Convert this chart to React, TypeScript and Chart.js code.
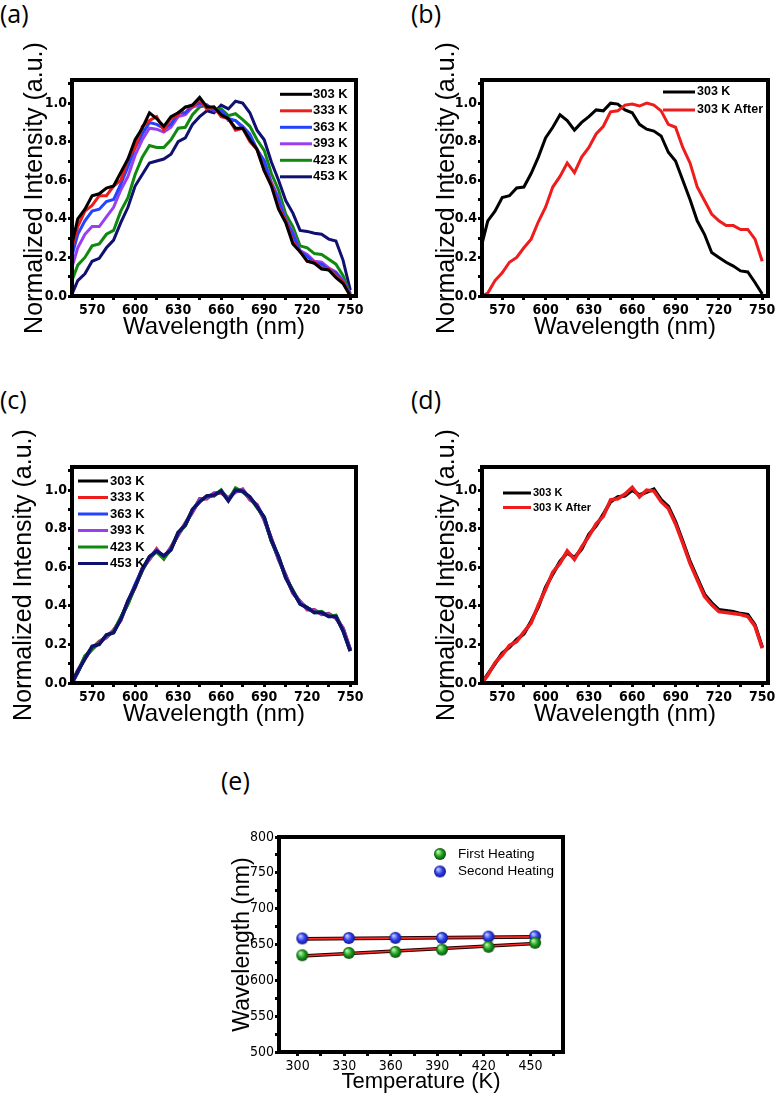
import React, { useEffect, useRef } from 'react';
import { Chart, registerables } from 'chart.js';

Chart.register(...registerables);

const TICK_FONT = '"DejaVu Sans Condensed", "Liberation Sans Narrow", "Liberation Sans", Arial, sans-serif';
const TITLE_FONT = '"Liberation Sans", Arial, sans-serif';

// ---------------- data ----------------
const wavelengths = [556, 560, 565, 570, 575, 580, 585, 590, 595, 600, 605, 610, 615, 620, 625, 630, 635, 640, 645, 650, 655, 660, 665, 670, 675, 680, 685, 690, 695, 700, 705, 710, 715, 720, 725, 730, 735, 740, 745, 750];

const wlTicks = [570, 585, 600, 615, 630, 645, 660, 675, 690, 705, 720, 735, 750];
const intensityTicks = [0, 0.1, 0.2, 0.3, 0.4, 0.5, 0.6, 0.7, 0.8, 0.9, 1.0, 1.1];

// (a) first heating
const a303 = [0.27, 0.40, 0.45, 0.52, 0.53, 0.56, 0.57, 0.64, 0.71, 0.81, 0.87, 0.95, 0.92, 0.88, 0.93, 0.95, 0.98, 0.99, 1.03, 0.98, 0.98, 0.94, 0.92, 0.87, 0.87, 0.81, 0.76, 0.65, 0.57, 0.45, 0.38, 0.27, 0.23, 0.18, 0.17, 0.14, 0.135, 0.095, 0.065, 0.0];
const a333 = [0.25, 0.36, 0.44, 0.47, 0.52, 0.52, 0.57, 0.60, 0.71, 0.77, 0.88, 0.91, 0.93, 0.86, 0.92, 0.94, 0.98, 0.98, 1.02, 0.97, 0.98, 0.93, 0.92, 0.86, 0.87, 0.80, 0.76, 0.65, 0.58, 0.46, 0.39, 0.28, 0.23, 0.18, 0.175, 0.145, 0.14, 0.105, 0.07, 0.005];
const a363 = [0.21, 0.32, 0.39, 0.44, 0.45, 0.49, 0.50, 0.58, 0.67, 0.77, 0.84, 0.90, 0.89, 0.87, 0.89, 0.95, 0.95, 0.99, 1.0, 0.99, 0.96, 0.96, 0.92, 0.91, 0.88, 0.84, 0.76, 0.70, 0.58, 0.50, 0.39, 0.32, 0.23, 0.205, 0.17, 0.165, 0.135, 0.12, 0.075, 0.015];
const a393 = [0.15, 0.25, 0.32, 0.36, 0.36, 0.41, 0.46, 0.55, 0.62, 0.73, 0.81, 0.87, 0.865, 0.85, 0.875, 0.93, 0.94, 0.98, 0.99, 0.99, 0.96, 0.96, 0.91, 0.91, 0.87, 0.82, 0.76, 0.70, 0.59, 0.51, 0.40, 0.33, 0.235, 0.215, 0.18, 0.175, 0.145, 0.125, 0.08, 0.01];
const a423 = [0.08, 0.16, 0.20, 0.26, 0.27, 0.32, 0.34, 0.44, 0.51, 0.63, 0.72, 0.78, 0.77, 0.77, 0.81, 0.87, 0.875, 0.94, 0.98, 0.99, 0.965, 0.97, 0.935, 0.945, 0.915, 0.88, 0.81, 0.755, 0.635, 0.55, 0.425, 0.36, 0.26, 0.25, 0.22, 0.215, 0.19, 0.165, 0.105, 0.01];
const a453 = [0.01, 0.08, 0.115, 0.18, 0.195, 0.25, 0.29, 0.38, 0.46, 0.57, 0.63, 0.69, 0.70, 0.71, 0.735, 0.80, 0.82, 0.89, 0.93, 0.96, 0.95, 0.99, 0.97, 1.01, 1.0, 0.95, 0.86, 0.81, 0.695, 0.60, 0.495, 0.43, 0.34, 0.335, 0.325, 0.32, 0.295, 0.285, 0.185, 0.03];

// (b) 303 K before / after first heating
const b303 = [0.27, 0.39, 0.44, 0.51, 0.52, 0.56, 0.565, 0.635, 0.72, 0.82, 0.875, 0.94, 0.91, 0.86, 0.90, 0.93, 0.965, 0.96, 1.0, 0.995, 0.965, 0.95, 0.89, 0.865, 0.855, 0.83, 0.745, 0.70, 0.60, 0.50, 0.39, 0.32, 0.225, 0.20, 0.175, 0.155, 0.13, 0.125, 0.07, 0.01];
const b303After = [0.0, 0.015, 0.08, 0.12, 0.175, 0.20, 0.25, 0.295, 0.385, 0.46, 0.565, 0.62, 0.69, 0.64, 0.72, 0.77, 0.84, 0.88, 0.955, 0.96, 0.99, 0.995, 0.985, 1.0, 0.99, 0.96, 0.89, 0.875, 0.77, 0.69, 0.565, 0.495, 0.425, 0.39, 0.365, 0.365, 0.345, 0.345, 0.295, 0.18];

// (c) second heating
const c303 = [0.0, 0.06, 0.13, 0.185, 0.205, 0.245, 0.265, 0.335, 0.415, 0.505, 0.585, 0.65, 0.685, 0.655, 0.695, 0.775, 0.82, 0.895, 0.945, 0.965, 0.975, 0.995, 0.95, 1.0, 0.995, 0.96, 0.915, 0.855, 0.74, 0.65, 0.55, 0.475, 0.415, 0.39, 0.37, 0.365, 0.35, 0.345, 0.275, 0.17];
const c333 = [0.005, 0.065, 0.125, 0.18, 0.215, 0.235, 0.275, 0.325, 0.425, 0.495, 0.595, 0.64, 0.695, 0.645, 0.705, 0.765, 0.83, 0.885, 0.955, 0.955, 0.985, 0.985, 0.96, 0.99, 1.005, 0.95, 0.925, 0.845, 0.75, 0.64, 0.56, 0.465, 0.425, 0.38, 0.38, 0.355, 0.36, 0.335, 0.285, 0.175];
const c363 = [0.0, 0.055, 0.135, 0.175, 0.21, 0.24, 0.27, 0.33, 0.42, 0.51, 0.59, 0.645, 0.69, 0.65, 0.70, 0.77, 0.825, 0.89, 0.95, 0.96, 0.98, 0.99, 0.955, 0.995, 1.0, 0.955, 0.92, 0.85, 0.745, 0.645, 0.555, 0.47, 0.42, 0.385, 0.375, 0.36, 0.355, 0.34, 0.28, 0.17];
const c393 = [0.0, 0.06, 0.13, 0.18, 0.21, 0.24, 0.27, 0.33, 0.42, 0.50, 0.59, 0.645, 0.69, 0.65, 0.70, 0.77, 0.825, 0.89, 0.95, 0.96, 0.98, 0.99, 0.955, 0.995, 1.0, 0.955, 0.92, 0.85, 0.745, 0.645, 0.555, 0.47, 0.42, 0.385, 0.375, 0.36, 0.355, 0.34, 0.28, 0.17];
const c423 = [0.01, 0.055, 0.14, 0.175, 0.21, 0.245, 0.265, 0.34, 0.41, 0.50, 0.585, 0.655, 0.68, 0.645, 0.695, 0.78, 0.815, 0.90, 0.94, 0.97, 0.97, 1.0, 0.945, 1.01, 0.99, 0.965, 0.91, 0.86, 0.735, 0.655, 0.545, 0.48, 0.41, 0.39, 0.365, 0.37, 0.345, 0.35, 0.27, 0.165];
const c453 = [0.0, 0.06, 0.125, 0.19, 0.20, 0.25, 0.26, 0.33, 0.425, 0.50, 0.59, 0.655, 0.685, 0.66, 0.69, 0.78, 0.82, 0.90, 0.94, 0.97, 0.975, 0.995, 0.945, 1.0, 0.995, 0.965, 0.915, 0.86, 0.74, 0.655, 0.545, 0.475, 0.41, 0.39, 0.365, 0.365, 0.345, 0.345, 0.27, 0.165];

// (d) 303 K before / after second heating
const d303 = [0.0, 0.045, 0.10, 0.155, 0.185, 0.225, 0.255, 0.32, 0.395, 0.495, 0.565, 0.63, 0.675, 0.65, 0.695, 0.77, 0.815, 0.875, 0.94, 0.965, 0.97, 1.0, 0.975, 0.99, 1.005, 0.95, 0.915, 0.835, 0.735, 0.63, 0.545, 0.46, 0.415, 0.38, 0.375, 0.37, 0.36, 0.355, 0.30, 0.185];
const d303After = [0.0, 0.04, 0.105, 0.145, 0.195, 0.215, 0.265, 0.31, 0.405, 0.485, 0.575, 0.62, 0.685, 0.64, 0.705, 0.76, 0.825, 0.865, 0.95, 0.955, 0.98, 1.015, 0.965, 1.0, 0.995, 0.94, 0.905, 0.825, 0.725, 0.62, 0.535, 0.45, 0.405, 0.37, 0.365, 0.36, 0.355, 0.345, 0.295, 0.18];

// (e) peak wavelength vs temperature
const temperatures = [303, 333, 363, 393, 423, 453];
const firstHeating = [635, 638.3, 639.7, 643, 646.8, 652.4];
const secondHeating = [658.5, 659, 659.3, 659.3, 661, 661.5];
const fitTemps = [303, 453];
const fitFirst = [634, 651.5];
const fitSecond = [657.8, 660.6];
const tempTicks = [300, 315, 330, 345, 360, 375, 390, 405, 420, 435, 450, 465];
const waveTicks = [500, 525, 550, 575, 600, 625, 650, 675, 700, 725, 750, 775, 800];

// colours
const C_BLACK = '#000000';
const C_RED = '#ee1c1c';
const C_BLUE = '#2343ff';
const C_PURPLE = '#9a3ff0';
const C_GREEN = '#0f8a0f';
const C_NAVY = '#101070';

// ---------------- plugins ----------------
type LegendItem = { text: string; color: string; image?: HTMLCanvasElement };
type LegendCfg = { x: number; y: number; gap: number; len: number; textGap: number; font: string; lineWidth: number; items: LegendItem[] };

function makeLegendPlugin(cfg: LegendCfg) {
  return {
    id: 'customLegend',
    afterDraw(chart: any) {
      const ctx = chart.ctx;
      ctx.save();
      ctx.font = cfg.font;
      ctx.textBaseline = 'middle';
      ctx.textAlign = 'left';
      cfg.items.forEach((it, i) => {
        const y = cfg.y + i * cfg.gap;
        if (it.image) {
          ctx.drawImage(it.image, cfg.x + cfg.len / 2 - it.image.width / 2, y - it.image.height / 2);
        } else {
          ctx.strokeStyle = it.color;
          ctx.lineWidth = cfg.lineWidth;
          ctx.beginPath();
          ctx.moveTo(cfg.x, y);
          ctx.lineTo(cfg.x + cfg.len, y);
          ctx.stroke();
        }
        ctx.fillStyle = '#000';
        ctx.fillText(it.text, cfg.x + cfg.len + cfg.textGap, y);
      });
      ctx.restore();
    },
  };
}

const framePlugin = {
  id: 'frameBox',
  afterDraw(chart: any) {
    const { ctx, chartArea: a } = chart;
    ctx.save();
    ctx.strokeStyle = '#000';
    ctx.lineWidth = 4;
    ctx.strokeRect(a.left, a.top, a.right - a.left, a.bottom - a.top);
    ctx.restore();
  },
};

function makeSphere(base: string, light: string, dark: string, r: number) {
  const c = document.createElement('canvas');
  c.width = 2 * r + 2;
  c.height = 2 * r + 2;
  const g = c.getContext('2d')!;
  const cx = r + 1;
  const grad = g.createRadialGradient(cx - r * 0.35, cx - r * 0.4, r * 0.1, cx, cx, r);
  grad.addColorStop(0, light);
  grad.addColorStop(0.55, base);
  grad.addColorStop(1, dark);
  g.fillStyle = grad;
  g.beginPath();
  g.arc(cx, cx, r, 0, Math.PI * 2);
  g.fill();
  return c;
}

// ---------------- spectrum panel ----------------
type Series = { label: string; data: number[]; color: string; order: number };
type Box = { l: number; t: number; r: number; b: number };

type SpectrumProps = {
  left: number; top: number; width: number; height: number;
  frame: Box; yTitleX: number; xTitleY: number;
  series: Series[]; legend: LegendCfg; lineWidth: number;
};

function SpectrumPanel(p: SpectrumProps) {
  const ref = useRef<HTMLCanvasElement | null>(null);
  useEffect(() => {
    const canvas = ref.current;
    if (!canvas) return;
    const yTitleSize = 25;
    const xTitleSize = 24;
    const padL = p.yTitleX - p.left - (yTitleSize * 1.2) / 2;
    const padT = p.frame.t - p.top;
    const padR = p.left + p.width - p.frame.r;
    const padB = p.top + p.height - p.xTitleY - (xTitleSize * 1.2) / 2;
    const yWidth = p.frame.l - p.left - padL;
    const xHeight = p.height - padB - (p.frame.b - p.top);
    const legendCfg: LegendCfg = { ...p.legend, x: p.legend.x - p.left, y: p.legend.y - p.top };

    const tickFont = { family: TICK_FONT, size: 14, weight: 'bold' as const };
    const chart = new Chart(canvas, {
      type: 'line',
      data: {
        datasets: p.series.map((s) => ({
          label: s.label,
          data: wavelengths.map((w, i) => ({ x: w, y: s.data[i] })),
          borderColor: s.color,
          backgroundColor: s.color,
          borderWidth: p.lineWidth,
          pointRadius: 0,
          tension: 0,
          order: s.order,
          fill: false,
        })),
      },
      options: {
        animation: false,
        responsive: false,
        devicePixelRatio: 1,
        layout: { padding: { left: padL, top: padT, right: padR, bottom: padB } },
        plugins: { legend: { display: false }, tooltip: { enabled: false } },
        scales: {
          x: {
            type: 'linear',
            min: 556,
            max: 754,
            afterBuildTicks: (s: any) => { s.ticks = wlTicks.map((v) => ({ value: v })); },
            afterFit: (s: any) => { s.height = xHeight; },
            ticks: {
              autoSkip: false, maxRotation: 0, padding: 2, color: '#000', font: tickFont,
              callback: (v: any) => (Number(v) % 30 === 0 ? String(v) : ''),
            },
            grid: { display: true, drawOnChartArea: false, drawTicks: true, tickLength: 4, tickWidth: 3, tickColor: '#000' },
            border: { display: false },
            title: { display: true, text: 'Wavelength (nm)', color: '#000', font: { family: TITLE_FONT, size: xTitleSize }, padding: { top: 0, bottom: 0 } },
          },
          y: {
            type: 'linear',
            min: 0,
            max: 1.12,
            afterBuildTicks: (s: any) => { s.ticks = intensityTicks.map((v) => ({ value: v })); },
            afterFit: (s: any) => { s.width = yWidth; },
            ticks: {
              autoSkip: false, padding: 1, color: '#000', font: tickFont,
              callback: (v: any) => (Math.round(Number(v) * 10) % 2 === 0 ? Number(v).toFixed(1) : ''),
            },
            grid: { display: true, drawOnChartArea: false, drawTicks: true, tickLength: 4, tickWidth: 3, tickColor: '#000' },
            border: { display: false },
            title: { display: true, text: 'Normalized Intensity (a.u.)', color: '#000', font: { family: TITLE_FONT, size: yTitleSize }, padding: { top: 0, bottom: 0 } },
          },
        },
      },
      plugins: [framePlugin, makeLegendPlugin(legendCfg)],
    } as any);
    return () => chart.destroy();
  }, []);
  return (
    <canvas ref={ref} width={p.width} height={p.height}
      style={{ position: 'absolute', left: p.left, top: p.top, width: p.width, height: p.height }} />
  );
}

// ---------------- temperature panel ----------------
function TempPanel() {
  const ref = useRef<HTMLCanvasElement | null>(null);
  const left = 200, top = 820, width = 420, height = 277;
  const frame = { l: 279, t: 837, r: 563, b: 1052 };
  useEffect(() => {
    const canvas = ref.current;
    if (!canvas) return;
    const xTitleSize = 22;
    const yTitleSize = 23;
    const padL = 243 - left - (yTitleSize * 1.2) / 2;
    const padT = frame.t - top;
    const padR = left + width - frame.r;
    const padB = top + height - 1082 - (xTitleSize * 1.2) / 2;
    const yWidth = frame.l - left - padL;
    const xHeight = height - padB - (frame.b - top);

    const greenBall = makeSphere('#1f9f1f', '#b8f5b0', '#0a4d0a', 6);
    const blueBall = makeSphere('#2f3ff0', '#c0c8ff', '#101a80', 6);
    const tickFont = { family: TICK_FONT, size: 14 };

    const legendCfg: LegendCfg = {
      x: 434 - left, y: 854 - top, gap: 17.5, len: 12, textGap: 12,
      font: `13.5px ${TITLE_FONT}`, lineWidth: 0,
      items: [
        { text: 'First Heating', color: '#1f9f1f', image: greenBall },
        { text: 'Second Heating', color: '#2f3ff0', image: blueBall },
      ],
    };

    const chart = new Chart(canvas, {
      type: 'scatter',
      data: {
        datasets: [
          { type: 'scatter', label: 'First Heating', data: temperatures.map((t, i) => ({ x: t, y: firstHeating[i] })), pointStyle: greenBall, pointRadius: 6, order: 0 },
          { type: 'scatter', label: 'Second Heating', data: temperatures.map((t, i) => ({ x: t, y: secondHeating[i] })), pointStyle: blueBall, pointRadius: 6, order: 0 },
          { type: 'line', label: 'Fit 1', data: fitTemps.map((t, i) => ({ x: t, y: fitFirst[i] })), borderColor: '#ff2a2a', borderWidth: 1.6, pointRadius: 0, order: 1 },
          { type: 'line', label: 'Fit 2', data: fitTemps.map((t, i) => ({ x: t, y: fitSecond[i] })), borderColor: '#ff2a2a', borderWidth: 1.6, pointRadius: 0, order: 1 },
          { type: 'line', label: 'Fit 1 edge', data: fitTemps.map((t, i) => ({ x: t, y: fitFirst[i] })), borderColor: '#200000', borderWidth: 3.6, pointRadius: 0, order: 2 },
          { type: 'line', label: 'Fit 2 edge', data: fitTemps.map((t, i) => ({ x: t, y: fitSecond[i] })), borderColor: '#200000', borderWidth: 3.6, pointRadius: 0, order: 2 },
        ],
      },
      options: {
        animation: false,
        responsive: false,
        devicePixelRatio: 1,
        layout: { padding: { left: padL, top: padT, right: padR, bottom: padB } },
        plugins: { legend: { display: false }, tooltip: { enabled: false } },
        scales: {
          x: {
            type: 'linear', min: 288, max: 471,
            afterBuildTicks: (s: any) => { s.ticks = tempTicks.map((v) => ({ value: v })); },
            afterFit: (s: any) => { s.height = xHeight; },
            ticks: { autoSkip: false, maxRotation: 0, padding: 2, color: '#000', font: tickFont, callback: (v: any) => (Number(v) % 30 === 0 ? String(v) : '') },
            grid: { display: true, drawOnChartArea: false, drawTicks: true, tickLength: 4, tickWidth: 3, tickColor: '#000' },
            border: { display: false },
            title: { display: true, text: 'Temperature (K)', color: '#000', font: { family: TITLE_FONT, size: xTitleSize }, padding: { top: 0, bottom: 0 } },
          },
          y: {
            type: 'linear', min: 500, max: 800,
            afterBuildTicks: (s: any) => { s.ticks = waveTicks.map((v) => ({ value: v })); },
            afterFit: (s: any) => { s.width = yWidth; },
            ticks: { autoSkip: false, padding: 1, color: '#000', font: tickFont, callback: (v: any) => (Number(v) % 50 === 0 ? String(v) : '') },
            grid: { display: true, drawOnChartArea: false, drawTicks: true, tickLength: 4, tickWidth: 3, tickColor: '#000' },
            border: { display: false },
            title: { display: true, text: 'Wavelength (nm)', color: '#000', font: { family: TITLE_FONT, size: yTitleSize }, padding: { top: 0, bottom: 0 } },
          },
        },
      },
      plugins: [framePlugin, makeLegendPlugin(legendCfg)],
    } as any);
    return () => chart.destroy();
  }, []);
  return (
    <canvas ref={ref} width={width} height={height}
      style={{ position: 'absolute', left, top, width, height }} />
  );
}

function PanelLabel({ text, x, y }: { text: string; x: number; y: number }) {
  return (
    <div style={{ position: 'absolute', left: x, top: y, fontFamily: '"Open Sans", sans-serif', fontSize: 25, lineHeight: '25px', color: '#000' }}>{text}</div>
  );
}

const heatLegendItems = (colors: string[]) =>
  ['303 K', '333 K', '363 K', '393 K', '423 K', '453 K'].map((t, i) => ({ text: t, color: colors[i] }));

export default function App() {
  const sixColors = [C_BLACK, C_RED, C_BLUE, C_PURPLE, C_GREEN, C_NAVY];
  return (
    <div style={{ position: 'absolute', left: 0, top: 0, width: 779, height: 1097, background: '#fff', overflow: 'hidden' }}>
      <PanelLabel text="(a)" x={0} y={1} />
      <PanelLabel text="(b)" x={411} y={1} />
      <PanelLabel text="(c)" x={0} y={387} />
      <PanelLabel text="(d)" x={411} y={387} />
      <PanelLabel text="(e)" x={221} y={768} />

      <SpectrumPanel
        left={0} top={20} width={390} height={340}
        frame={{ l: 72, t: 80, r: 356, b: 296 }} yTitleX={35} xTitleY={327} lineWidth={3}
        series={[
          { label: '303 K', data: a303, color: C_BLACK, order: 0 },
          { label: '333 K', data: a333, color: C_RED, order: 1 },
          { label: '363 K', data: a363, color: C_BLUE, order: 2 },
          { label: '393 K', data: a393, color: C_PURPLE, order: 3 },
          { label: '423 K', data: a423, color: C_GREEN, order: 4 },
          { label: '453 K', data: a453, color: C_NAVY, order: 5 },
        ]}
        legend={{ x: 280, y: 94.3, gap: 16.5, len: 32, textGap: 1, font: `bold 13px ${TITLE_FONT}`, lineWidth: 3, items: heatLegendItems(sixColors) }}
      />
      <SpectrumPanel
        left={390} top={20} width={389} height={340}
        frame={{ l: 482, t: 80, r: 768, b: 296 }} yTitleX={447} xTitleY={327} lineWidth={3}
        series={[
          { label: '303 K', data: b303, color: C_BLACK, order: 1 },
          { label: '303 K After', data: b303After, color: C_RED, order: 0 },
        ]}
        legend={{ x: 663, y: 92, gap: 18, len: 32, textGap: 2, font: `bold 12.5px ${TITLE_FONT}`, lineWidth: 3, items: [{ text: '303 K', color: C_BLACK }, { text: '303 K After', color: C_RED }] }}
      />
      <SpectrumPanel
        left={0} top={407} width={390} height={340}
        frame={{ l: 72, t: 467, r: 356, b: 683 }} yTitleX={24} xTitleY={714} lineWidth={3.5}
        series={[
          { label: '303 K', data: c303, color: C_BLACK, order: 5 },
          { label: '333 K', data: c333, color: C_RED, order: 4 },
          { label: '363 K', data: c363, color: C_BLUE, order: 3 },
          { label: '393 K', data: c393, color: C_PURPLE, order: 2 },
          { label: '423 K', data: c423, color: C_GREEN, order: 1 },
          { label: '453 K', data: c453, color: C_NAVY, order: 0 },
        ]}
        legend={{ x: 78, y: 481, gap: 16.5, len: 30, textGap: 2, font: `bold 13px ${TITLE_FONT}`, lineWidth: 3, items: heatLegendItems(sixColors) }}
      />
      <SpectrumPanel
        left={390} top={407} width={389} height={340}
        frame={{ l: 482, t: 467, r: 768, b: 683 }} yTitleX={447} xTitleY={714} lineWidth={3.5}
        series={[
          { label: '303 K', data: d303, color: C_BLACK, order: 1 },
          { label: '303 K After', data: d303After, color: C_RED, order: 0 },
        ]}
        legend={{ x: 503, y: 493, gap: 14.5, len: 28, textGap: 2, font: `bold 11px ${TITLE_FONT}`, lineWidth: 3, items: [{ text: '303 K', color: C_BLACK }, { text: '303 K After', color: C_RED }] }}
      />
      <TempPanel />
    </div>
  );
}
